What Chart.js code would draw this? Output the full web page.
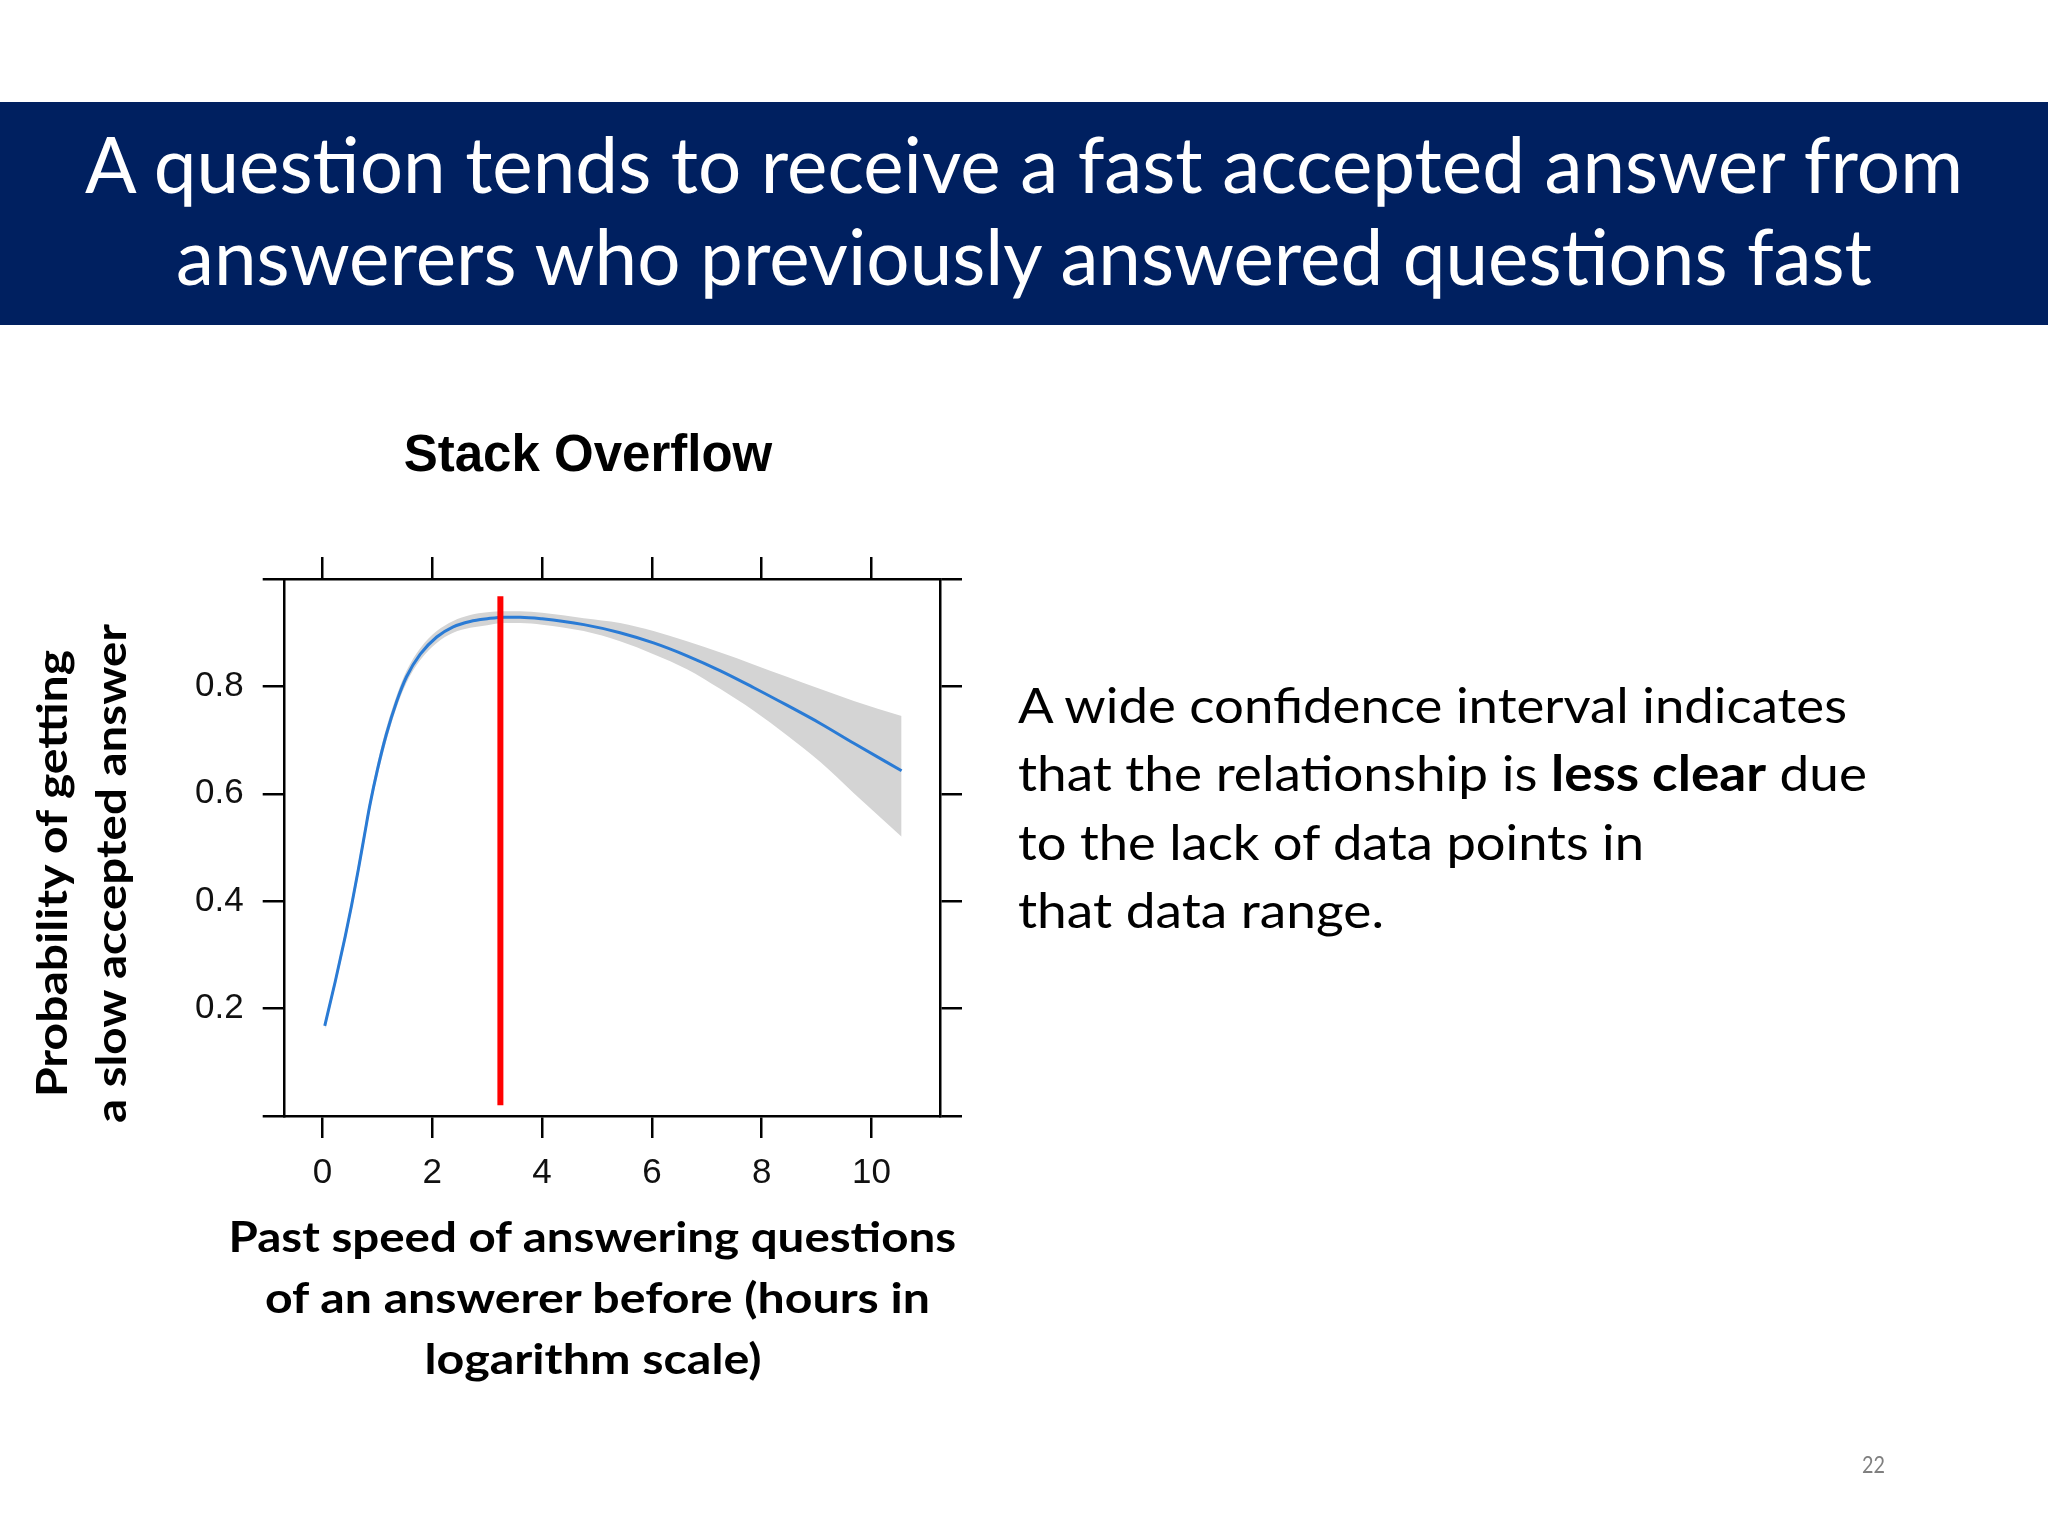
<!DOCTYPE html>
<html>
<head>
<meta charset="utf-8">
<script src="https://cdn.jsdelivr.net/npm/chart.js@4.4.1/dist/chart.umd.min.js"></script>
<style>
html,body{margin:0;padding:0;background:#ffffff;}
#page{position:relative;width:2048px;height:1536px;overflow:hidden;background:#ffffff;}
#banner{position:absolute;left:0;top:102px;width:2048px;height:223px;background:#002060;}
#chartWrap{position:absolute;left:0;top:380px;width:1176px;height:840px;}
#overlay{position:absolute;left:0;top:0;width:2048px;height:1536px;pointer-events:none;}
</style>
</head>
<body>
<div id="page">
  <div id="banner"></div>
  <div id="chartWrap"><canvas id="c" width="1176" height="840" style="width:1176px;height:840px;"></canvas></div>
  <svg id="overlay" xmlns="http://www.w3.org/2000/svg" width="2048" height="1536" viewBox="0 0 2048 1536">
    <g font-family="Lato, 'Open Sans', sans-serif" fill="#ffffff" font-size="78">
      <text x="85" y="192.7" textLength="1878" lengthAdjust="spacingAndGlyphs">A question tends to receive a fast accepted answer from</text>
      <text x="176" y="285" textLength="1696" lengthAdjust="spacingAndGlyphs">answerers who previously answered questions fast</text>
    </g>
    <g font-family="Lato, 'Open Sans', sans-serif" fill="#000000" font-size="49">
      <text x="1018" y="722.5" textLength="829" lengthAdjust="spacingAndGlyphs">A wide confidence interval indicates</text>
      <text x="1018" y="791" textLength="849" lengthAdjust="spacingAndGlyphs">that the relationship is <tspan font-weight="bold">less clear</tspan> due</text>
      <text x="1018" y="859.5" textLength="626" lengthAdjust="spacingAndGlyphs">to the lack of data points in</text>
      <text x="1018" y="928" textLength="366" lengthAdjust="spacingAndGlyphs">that data range.</text>
    </g>
    <g font-family="Lato, 'Open Sans', sans-serif" fill="#000000" font-size="42" font-weight="bold">
      <text x="228.6" y="1252" textLength="727.5" lengthAdjust="spacingAndGlyphs">Past speed of answering questions</text>
      <text x="265" y="1313" textLength="665" lengthAdjust="spacingAndGlyphs">of an answerer before (hours in</text>
      <text x="424.5" y="1374" textLength="337" lengthAdjust="spacingAndGlyphs">logarithm scale)</text>
      <text transform="translate(67,1097) rotate(-90)" textLength="447" lengthAdjust="spacingAndGlyphs">Probability of getting</text>
      <text transform="translate(126,1123) rotate(-90)" textLength="499" lengthAdjust="spacingAndGlyphs">a slow accepted answer</text>
    </g>
    <text x="1862" y="1473.3" font-family="Lato, 'Open Sans', sans-serif" font-size="23" fill="#7f7f7f" textLength="23" lengthAdjust="spacingAndGlyphs">22</text>
  </svg>
</div>
<script>
// ---- data ----
const chartTitle = 'Stack Overflow';
const xValues     = [0.04, 0.23, 0.41, 0.53, 0.65, 0.77, 0.86, 1.0, 1.16, 1.35, 1.53, 1.78, 2.08, 2.38, 2.69, 3.0, 3.3, 3.6, 4.0, 4.76, 5.42, 6.03, 6.64, 7.25, 7.85, 8.46, 9.07, 9.68, 10.55];
const fitValues   = [0.168, 0.250, 0.333, 0.393, 0.458, 0.527, 0.578, 0.645, 0.710, 0.772, 0.818, 0.860, 0.892, 0.911, 0.921, 0.926, 0.929, 0.929, 0.926, 0.915, 0.900, 0.881, 0.857, 0.829, 0.798, 0.765, 0.731, 0.694, 0.643];
const upperValues = [0.176, 0.259, 0.343, 0.404, 0.470, 0.539, 0.590, 0.657, 0.722, 0.783, 0.829, 0.871, 0.903, 0.922, 0.933, 0.938, 0.940, 0.940, 0.937, 0.927, 0.918, 0.903, 0.884, 0.863, 0.841, 0.818, 0.795, 0.773, 0.745];
const lowerValues = [0.160, 0.241, 0.323, 0.382, 0.446, 0.515, 0.566, 0.633, 0.698, 0.761, 0.807, 0.849, 0.881, 0.900, 0.909, 0.914, 0.918, 0.918, 0.915, 0.903, 0.884, 0.860, 0.832, 0.795, 0.755, 0.709, 0.659, 0.601, 0.520];
const markerX = [3.24, 3.24];
const markerY = [0.02, 0.968];
const xTickValues = [0, 2, 4, 6, 8, 10];
const xTickLabels = ['0', '2', '4', '6', '8', '10'];
const yTickValues = [0, 0.2, 0.4, 0.6, 0.8, 1.0];
const yTickLabels = ['', '0.2', '0.4', '0.6', '0.8', ''];
const xMin = -0.69, xMax = 11.25, yMin = 0, yMax = 1;

// ---- styling ----
const bandColor = '#d4d4d4';
const fitColor = '#2a7bd5';
const markerColor = '#ff0000';
const axisColor = '#000000';
const axisWidth = 2.5;
const tickFont = {size: 35};

Chart.defaults.font.family = "'Liberation Sans', Arial, sans-serif";
const pts = (xs, ys) => xs.map((x, i) => ({x: x, y: ys[i]}));

const gridCfg = () => ({display: true, drawOnChartArea: false, drawTicks: true, tickLength: 22, color: axisColor, lineWidth: axisWidth});
const borderCfg = () => ({display: true, color: axisColor, width: axisWidth});
const xTicksFn = s => { s.ticks = xTickValues.map(v => ({value: v})); };
const yTicksFn = s => { s.ticks = yTickValues.map(v => ({value: v})); };

new Chart(document.getElementById('c').getContext('2d'), {
  type: 'line',
  data: {
    datasets: [
      {label: 'lower', data: pts(xValues, lowerValues), borderColor: 'rgba(0,0,0,0)', borderWidth: 0, pointRadius: 0, fill: false, cubicInterpolationMode: 'monotone', order: 2},
      {label: 'upper', data: pts(xValues, upperValues), borderColor: 'rgba(0,0,0,0)', borderWidth: 0, backgroundColor: bandColor, pointRadius: 0, fill: '-1', cubicInterpolationMode: 'monotone', order: 2},
      {label: 'fit', data: pts(xValues, fitValues), borderColor: fitColor, borderWidth: 3, pointRadius: 0, fill: false, cubicInterpolationMode: 'monotone', order: 1},
      {label: 'marker', data: pts(markerX, markerY), borderColor: markerColor, borderWidth: 6, borderCapStyle: 'butt', pointRadius: 0, fill: false, order: 0}
    ]
  },
  options: {
    responsive: false,
    animation: false,
    devicePixelRatio: 1,
    events: [],
    layout: {padding: 0, autoPadding: false},
    plugins: {
      legend: {display: false},
      tooltip: {enabled: false},
      title: {
        display: true, text: chartTitle, color: '#000000',
        font: {size: 51, weight: 'bold', family: "'Liberation Sans', Arial, sans-serif"},
        padding: {top: 46.1, bottom: 51.7}
      }
    },
    scales: {
      x: {
        type: 'linear', position: 'bottom', min: xMin, max: xMax,
        grid: gridCfg(), border: borderCfg(),
        afterBuildTicks: xTicksFn,
        ticks: {autoSkip: false, maxRotation: 0, padding: 14, color: '#111111', font: tickFont, callback: (v, i) => xTickLabels[i]},
        afterFit: s => { s.height = 104; }
      },
      x2: {
        type: 'linear', position: 'top', min: xMin, max: xMax,
        grid: gridCfg(), border: borderCfg(),
        afterBuildTicks: xTicksFn,
        ticks: {display: false},
        afterFit: s => { s.height = 40; }
      },
      y: {
        type: 'linear', position: 'left', min: yMin, max: yMax,
        grid: gridCfg(), border: borderCfg(),
        afterBuildTicks: yTicksFn,
        ticks: {autoSkip: false, padding: 19, color: '#111111', font: tickFont, callback: (v, i) => yTickLabels[i]},
        afterFit: s => { s.width = 284.7; }
      },
      y2: {
        type: 'linear', position: 'right', min: yMin, max: yMax,
        grid: gridCfg(), border: borderCfg(),
        afterBuildTicks: yTicksFn,
        ticks: {display: false},
        afterFit: s => { s.width = 236; }
      }
    }
  }
});
</script>
</body>
</html>
